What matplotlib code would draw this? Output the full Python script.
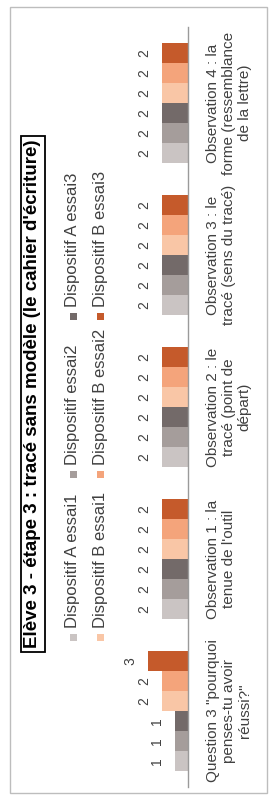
import matplotlib
matplotlib.use('Agg')
import matplotlib.pyplot as plt
from matplotlib.patches import Rectangle
import numpy as np

plt.rcParams['font.family'] = ['Liberation Sans', 'DejaVu Sans']

title = "Elève 3 - étape 3 : tracé sans modèle (le cahier d'écriture)"
categories = [
    'Question 3 "pourquoi\npenses-tu avoir\nréussi?"',
    "Observation 1 : la\ntenue de l'outil",
    "Observation 2 : le\ntracé (point de\ndépart)",
    "Observation 3 : le\ntracé (sens du tracé)",
    "Observation 4 : la\nforme (ressemblance\nde la lettre)",
]
series_names = ["Dispositif A essai1", "Dispositif essai2", "Dispositif A essai3",
                "Dispositif B essai1", "Dispositif B essai2", "Dispositif B essai3"]
a_essai1 = [1, 2, 2, 2, 2]
a_essai2 = [1, 2, 2, 2, 2]
a_essai3 = [1, 2, 2, 2, 2]
b_essai1 = [2, 2, 2, 2, 2]
b_essai2 = [2, 2, 2, 2, 2]
b_essai3 = [3, 2, 2, 2, 2]
series = [a_essai1, a_essai2, a_essai3, b_essai1, b_essai2, b_essai3]
colors = ['#cac4c3', '#a59d9b', '#736a69', '#f9c6a6', '#f4a47b', '#c55a2b']

W, H = 270, 800
fig = plt.figure(figsize=(W / 100, H / 100), dpi=100)
fig.patch.set_facecolor('white')

def fx(x):
    return x / W

def fy(y):
    return 1 - y / H

# frame
fig.add_artist(Rectangle((fx(10), fy(793)), fx(257), (793 - 7) / H,
                         transform=fig.transFigure, fill=False, ec='#bdbdbd', lw=1))

ax_left, ax_right, ax_top, ax_bottom = 121.3, 188.3, 27, 787
ax = fig.add_axes([fx(ax_left), fy(ax_bottom), fx(ax_right - ax_left), (ax_bottom - ax_top) / H])
ax.set_facecolor('none')
ax.set_xlim(5, 0)
ax.set_ylim(-0.5, 4.5)

y = np.arange(len(categories))
w = 0.132
for i, (vals, col, name) in enumerate(zip(series, colors, series_names)):
    bars = ax.barh(y + (i - 2.5) * w, vals, height=w, color=col, label=name)
    ax.bar_label(bars, padding=7.5, rotation=90, fontsize=10, color='#404040')

for s in ['top', 'left', 'bottom']:
    ax.spines[s].set_visible(False)
ax.spines['right'].set_color('#9a9a9a')
ax.spines['right'].set_linewidth(1)
ax.xaxis.set_visible(False)
ax.yaxis.tick_right()
ax.set_yticks(y)
ax.set_yticklabels(categories, rotation=90, fontsize=11, color='#404040',
                   va='center', ha='left', multialignment='center', linespacing=1.15)
ax.tick_params(axis='y', length=0, pad=13)

# legend (manual, rotated)
col_x = [73, 100]
row_y = [637, 474, 316]
for idx, (name, col) in enumerate(zip(series_names, colors)):
    c, r = idx // 3, idx % 3
    mx, my = col_x[c], row_y[r]
    fig.add_artist(Rectangle((fx(mx - 3.5), fy(my + 3.5)), fx(7), 7 / H,
                             transform=fig.transFigure, fc=col, ec='none'))
    fig.text(fx(mx), fy(my - 9), name, rotation=90, rotation_mode='anchor',
             ha='left', va='center', fontsize=12, color='#404040')

fig.text(fx(33), fy(394), title, rotation=90, ha='center', va='center',
         fontsize=13.5, fontweight='bold', color='black',
         bbox=dict(boxstyle='square,pad=0.2', fc='white', ec='black', lw=1.3))

fig.savefig('out.png', dpi=100)
